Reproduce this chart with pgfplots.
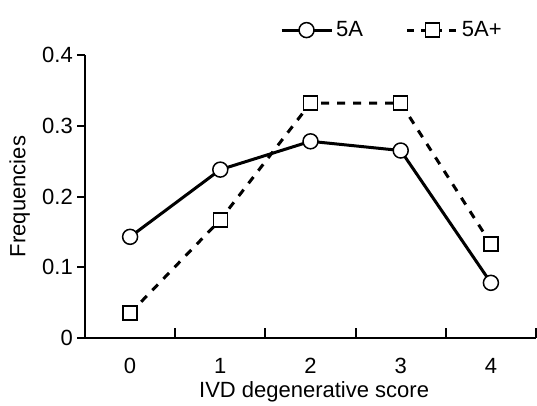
\documentclass[border=0pt]{standalone}
\usepackage{fontspec}
\setmainfont{Liberation Sans}
\usepackage{pgfplots}
\pgfplotsset{compat=1.18}
\begin{document}
\fontsize{22}{26}\selectfont
\begin{tikzpicture}
\path[use as bounding box] (0,0) rectangle (537pt,405pt);
\begin{axis}[
  at={(85pt,67pt)}, anchor=south west,
  scale only axis, width=451pt, height=283pt,
  xmin=-0.5, xmax=4.5, ymin=0, ymax=0.4,
  axis x line=bottom, axis y line=left,
  axis line style={line width=2.2pt, -},
  clip=false,
  xtick={0,1,2,3,4},
  minor xtick={0.5,1.5,2.5,3.5,4.5},
  every major x tick/.style={draw=none},
  minor tick length=10pt,
  xtick align=inside,
  ytick={0,0.1,0.2,0.3,0.4},
  ytick align=outside,
  major tick length=8pt,
  tick style={line width=2pt, black},
  /pgf/number format/assume math mode=true,
  xticklabel style={yshift=-13pt},
  yticklabel style={inner sep=0pt, xshift=-4pt},
  xlabel={IVD degenerative score},
  ylabel={Frequencies},
  xlabel style={at={(axis description cs:0.508,-0.19)}, anchor=center},
  ylabel style={at={(axis description cs:-0.145,0.5)}, anchor=center},
  legend columns=2,
  legend style={draw=none, fill=none, inner sep=0pt, at={(0.432,1.088)}, anchor=west,
    nodes={inner sep=3pt},
    /tikz/every even column/.append style={column sep=40pt}},
  legend image code/.code={
    \draw[mark repeat=2,mark phase=2,#1] plot coordinates {(0pt,0pt) (25pt,0pt) (50pt,0pt)};},
]
\addplot[black, line width=3pt, mark=*, mark size=7.5pt,
  mark options={solid, line width=1.5pt, fill=white, draw=black}]
  coordinates {(0,0.143) (1,0.238) (2,0.278) (3,0.265) (4,0.078)};
\addlegendentry{5A}
\addplot[black, line width=3pt, dash pattern=on 8pt off 8pt, mark=square*, mark size=7pt,
  mark options={solid, line width=1.5pt, fill=white, draw=black},
  legend image post style={dash pattern=on 7pt off 7pt}]
  coordinates {(0,0.035) (1,0.167) (2,0.332) (3,0.332) (4,0.133)};
\addlegendentry{5A+}
\end{axis}
\end{tikzpicture}
\end{document}
